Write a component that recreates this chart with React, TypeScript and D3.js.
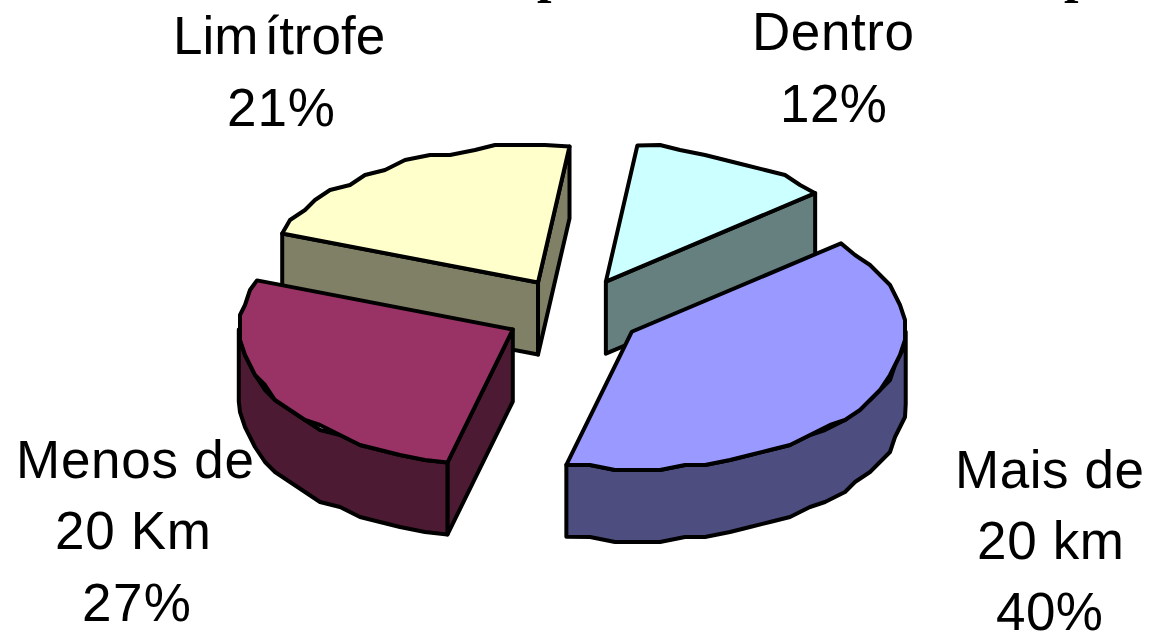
import React from "react";
import * as d3 from "d3";

const W = 1151, H = 633;

// data
const categories = ["Dentro", "Mais de 20 km", "Menos de 20 Km", "Limítrofe"];
const values = [12, 40, 27, 21];
const topColors = ["#CCFFFF", "#9999FF", "#993366", "#FFFFCC"];
const wallColors = ["#668080", "#4D4D80", "#4D1A33", "#808066"];
const drawOrder = [3, 0, 2, 1];

// label lines: text, left, width, baseline
const labelLines: [string, number, number, number][] = [
  ["Dentro", 752, 162, 50],
  ["12%", 780, 107, 122],
  ["21%", 227, 108, 126],
  ["Menos de", 16, 238, 478],
  ["20 Km", 55, 156, 549],
  ["27%", 82, 109, 621],
  ["Mais de", 955, 189, 488],
  ["20 km", 977, 147, 559],
  ["40%", 996, 107, 630],
];
// the one label with the source's uneven letter gap
const gappedLabel = { head: "Lim", tail: "ítrofe", x: 173, y: 54, gap: 6 };
// descenders of a title that the picture's top edge cuts off
const clippedTitleGlyphs: [string, number][] = [["p", 537], ["p", 1064]];

// geometry of the projection
const cx = 573.5, cy = 313, rx = 274, ry = 137, depth = 72;
const explodeX = 0.25, explodeY = 0.26;
const startDeg = 6.6;
const grid = 5; // the source's coarse outline steps

const sx = d3.scaleLinear().domain([-1, 1]).range([cx - rx, cx + rx]);
const sy = d3.scaleLinear().domain([-1, 1]).range([cy - ry, cy + ry]);
const line = d3.line<[number, number]>().x(d => d[0]).y(d => d[1]);

const pie = d3.pie<number>().sort(null)
  .startAngle((startDeg * Math.PI) / 180)
  .endAngle((startDeg * Math.PI) / 180 + 2 * Math.PI);

type P = [number, number];

function arcPoints(ax: number, ay: number, a0: number, a1: number): P[] {
  const step = (5 * Math.PI) / 180;
  const n = Math.max(1, Math.round((a1 - a0) / step));
  const pts: P[] = [];
  for (let i = 0; i <= n; i++) {
    const a = a0 + ((a1 - a0) * i) / n;
    let x = ax + (sx(Math.sin(a)) - cx);
    let y = ay + (sy(-Math.cos(a)) - cy);
    if (i > 0 && i < n) {
      x = Math.round(x / grid) * grid;
      y = Math.round(y / grid) * grid;
    }
    pts.push([x, y]);
  }
  return pts;
}

export default function App() {
  const arcs = pie(values);
  const stroke = { stroke: "#000", strokeWidth: 4, strokeLinejoin: "round" as const };
  return (
    <svg width={W} height={H} viewBox={`0 0 ${W} ${H}`}
      style={{ position: "absolute", left: 0, top: 0, background: "#fff" }}>
      <g fontFamily="'Liberation Serif'" fontWeight="bold" fontSize={52} fill="#000">
        {clippedTitleGlyphs.map(([t, x], i) => <text key={i} x={x} y={-8}>{t}</text>)}
      </g>
      {drawOrder.map(i => {
        const d = arcs[i];
        const mid = (d.startAngle + d.endAngle) / 2;
        const ax = cx + Math.sin(mid) * rx * explodeX;
        const ay = cy - Math.cos(mid) * ry * explodeY;
        const rim = arcPoints(ax, ay, d.startAngle, d.endAngle);
        const top: P[] = [[ax, ay], ...rim];
        const down = (p: P): P => [p[0], p[1] + depth];
        const first = rim[0], last = rim[rim.length - 1];
        const walls: P[][] = [];
        // radial walls facing the viewer
        const norm = (a: number) => ((a % (2 * Math.PI)) + 2 * Math.PI) % (2 * Math.PI);
        const startSeen = Math.sin(norm(d.startAngle)) < 0;
        const endSeen = Math.sin(norm(d.endAngle)) > 0;
        if (endSeen) walls.push([[ax, ay], last, down(last), down([ax, ay])]);
        if (startSeen) walls.push([[ax, ay], first, down(first), down([ax, ay])]);
        // outer wall
        const lo = Math.max(d.startAngle, Math.PI / 2);
        const hi = Math.min(d.endAngle, (3 * Math.PI) / 2);
        if (hi > lo) {
          const seg = arcPoints(ax, ay, lo, hi);
          walls.push([...seg, ...seg.slice().reverse().map(down)]);
        }
        return (
          <g key={categories[i]}>
            {walls.map((w, k) => (
              <path key={k} d={line(w) + "Z"} fill={wallColors[i]} {...stroke} />
            ))}
            <path d={line(top) + "Z"} fill={topColors[i]} {...stroke} />
          </g>
        );
      })}
      <g fontFamily="'Liberation Sans'" fontSize={53} fill="#000">
        {labelLines.map(([t, x, w, y]) => (
          <text key={t + y} x={x} y={y} textLength={w} lengthAdjust="spacing">{t}</text>
        ))}
        <text x={gappedLabel.x} y={gappedLabel.y}>
          <tspan>{gappedLabel.head}</tspan>
          <tspan dx={gappedLabel.gap}>{gappedLabel.tail}</tspan>
        </text>
      </g>
    </svg>
  );
}
